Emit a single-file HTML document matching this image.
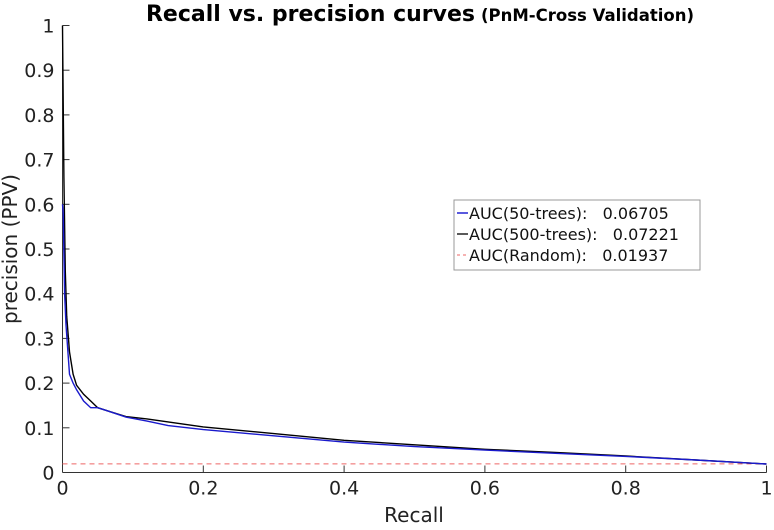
<!DOCTYPE html>
<html><head><meta charset="utf-8"><style>
body{margin:0;background:#fff;width:774px;height:525px;overflow:hidden}
svg{font-family:"DejaVu Sans","Liberation Sans",sans-serif}
</style></head><body>
<svg id="chart" width="774" height="525">
<text x="420" y="21" text-anchor="middle" font-weight="bold"><tspan font-size="22">Recall vs. precision curves</tspan><tspan font-size="16.5" dx="6">(PnM-Cross Validation)</tspan></text>
<g id="axes"></g>
<g id="series"></g>
<g>
<rect x="454" y="200" width="246" height="70" fill="#fff" stroke="#999" stroke-width="1"/>
<line x1="457" y1="213" x2="468" y2="213" stroke="#0000cc" stroke-width="1.3"/>
<text x="469" y="219" font-size="16" fill="#111" xml:space="preserve">AUC(50-trees):   0.06705</text>
<line x1="457" y1="234" x2="468" y2="234" stroke="#000" stroke-width="1.3"/>
<text x="469" y="240" font-size="16" fill="#111" xml:space="preserve">AUC(500-trees):   0.07221</text>
<line x1="457" y1="255" x2="468" y2="255" stroke="#e66" stroke-width="1" stroke-dasharray="3,3"/>
<text x="469" y="261" font-size="16" fill="#111" xml:space="preserve">AUC(Random):   0.01937</text>
</g>
</svg>
<script>
const xTicks=[0,0.2,0.4,0.6,0.8,1];
const yTicks=[0,0.1,0.2,0.3,0.4,0.5,0.6,0.7,0.8,0.9,1];
const recall500=[0,0.001,0.002,0.004,0.006,0.01,0.015,0.02,0.03,0.04,0.05,0.07,0.09,0.12,0.2,0.3,0.4,0.5,0.6,0.7,0.8,0.9,1];
const prec500=[1,0.83,0.66,0.45,0.35,0.27,0.22,0.195,0.175,0.16,0.145,0.135,0.125,0.12,0.102,0.087,0.072,0.062,0.052,0.045,0.037,0.028,0.019];
const recall50=[0,0.001,0.003,0.005,0.01,0.015,0.02,0.03,0.04,0.05,0.06,0.09,0.12,0.15,0.2,0.3,0.4,0.5,0.6,0.7,0.8,0.9,1];
const prec50=[0.6,0.58,0.4,0.33,0.22,0.2,0.185,0.16,0.145,0.145,0.14,0.124,0.115,0.105,0.096,0.082,0.068,0.058,0.05,0.043,0.036,0.028,0.019];
const randomLevel=[0.0194];
const X0=62.5,X1=766.5,Y0=472.5,Y1=25.5;
const sx=v=>X0+(X1-X0)*v, sy=v=>Y0-(Y0-Y1)*v;
const NS="http://www.w3.org/2000/svg";
function mk(t,a,p){const e=document.createElementNS(NS,t);for(const k in a)e.setAttribute(k,a[k]);p.appendChild(e);return e;}
const ax=document.getElementById('axes');
let l=mk('line',{x1:X0,y1:Y0,x2:X1,y2:Y0,stroke:'#333'},ax);


l=mk('line',{x1:X0,y1:Y0,x2:X0,y2:Y1,stroke:'#333'},ax);


xTicks.forEach(v=>{mk('line',{x1:sx(v),y1:Y0,x2:sx(v),y2:Y0-7,stroke:'#333'},ax);
const t=mk('text',{x:sx(v),y:Y0+22,'text-anchor':'middle','font-size':19,fill:'#222'},ax);t.textContent=String(v);

});
yTicks.forEach(v=>{mk('line',{x1:X0,y1:sy(v),x2:X0+7,y2:sy(v),stroke:'#333'},ax);
const t=mk('text',{x:X0-8,y:sy(v)+7,'text-anchor':'end','font-size':19,fill:'#222'},ax);t.textContent=String(v);

});
let t=mk('text',{x:414,y:522,'text-anchor':'middle','font-size':20,fill:'#222'},ax);t.textContent='Recall';


t=mk('text',{x:0,y:0,'text-anchor':'middle','font-size':20,fill:'#222',transform:'translate(17,249) rotate(-90)'},ax);t.textContent='precision (PPV)';


const sg=document.getElementById('series');
let r=mk('line',{x1:sx(0),y1:sy(randomLevel[0]),x2:sx(1),y2:sy(randomLevel[0]),stroke:'#e66','stroke-dasharray':'5,4'},sg);


function path(xs,ys){return xs.map((x,i)=>(i?'L':'M')+sx(x).toFixed(1)+','+sy(ys[i]).toFixed(1)).join('');}
let p=mk('path',{d:path(recall500,prec500),fill:'none',stroke:'#000','stroke-width':1.4},sg);


p=mk('path',{d:path(recall50,prec50),fill:'none',stroke:'#1a1acc','stroke-width':1.4},sg);


</script>
</body></html>
